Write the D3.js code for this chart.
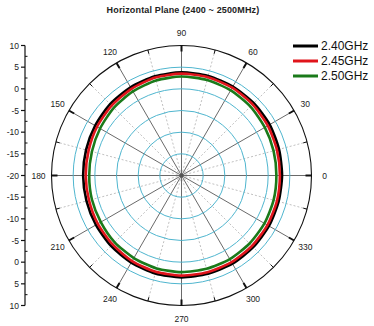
<!DOCTYPE html>
<html>
<head>
<meta charset="utf-8">
<script src="https://cdn.jsdelivr.net/npm/d3@7/dist/d3.min.js"></script>
<style>
  html, body { margin: 0; padding: 0; background: #fff; }
  svg { display: block; font-family: "Liberation Sans", Arial, sans-serif; }
</style>
</head>
<body>
<svg id="chart" width="374" height="326"></svg>
<script>
// Angles (degrees) at which the gain was sampled
const angles = [0, 15, 30, 45, 60, 75, 90, 105, 120, 135, 150, 165,
                180, 195, 210, 225, 240, 255, 270, 285, 300, 315, 330, 345];

// Gain (dB) per frequency
const gain240 = [3.2, 3.3, 3.5, 3.6, 3.7, 3.8, 3.8, 3.7, 3.5, 3.3, 3.0, 2.8,
                 2.7, 2.7, 2.8, 3.0, 3.2, 3.4, 3.5, 3.5, 3.5, 3.4, 3.3, 3.2];
const gain245 = [2.7, 2.8, 3.0, 3.2, 3.4, 3.5, 3.5, 3.4, 3.1, 2.8, 2.5, 2.2,
                 2.1, 2.1, 2.3, 2.5, 2.8, 3.0, 3.1, 3.1, 3.1, 3.0, 2.9, 2.8];
const gain250 = [1.9, 2.0, 2.2, 2.5, 2.7, 2.8, 2.85, 2.7, 2.4, 2.1, 1.7, 1.4,
                 1.3, 1.4, 1.5, 1.8, 2.0, 2.2, 2.3, 2.3, 2.3, 2.2, 2.1, 2.0];

const seriesNames = ["2.40GHz", "2.45GHz", "2.50GHz"];
const seriesColors = ["#000000", "#e0141b", "#1a7a1a"];

// Radial grid levels and angular labels
const ringLevels = [-15, -10, -5, 0, 5];
const axisTicks = [10, 5, 0, -5, -10, -15, -20];
const angleLabels = [0, 30, 60, 90, 120, 150, 180, 210, 240, 270, 300, 330];

const svg = d3.select("#chart");
const cx = 181.5, cy = 175.5, R = 130;

const r = d3.scaleLinear().domain([-20, 10]).range([0, R]);
const toRad = d => d * Math.PI / 180;
// polar -> screen (0° to the right, counter-clockwise)
const px = (deg, rad) => cx + rad * Math.cos(toRad(deg));
const py = (deg, rad) => cy - rad * Math.sin(toRad(deg));

// Title
svg.append("text")
  .attr("x", 183).attr("y", 13)
  .attr("text-anchor", "middle")
  .attr("font-size", 9).attr("font-weight", "bold")
  .attr("letter-spacing", 0.15)
  .attr("fill", "#222")
  .text("Horizontal Plane (2400 ~ 2500MHz)");

const g = svg.append("g");

// Dotted minor spokes
g.selectAll("line.minor")
  .data(d3.range(15, 360, 30))
  .join("line")
  .attr("x1", cx).attr("y1", cy)
  .attr("x2", d => px(d, R)).attr("y2", d => py(d, R))
  .attr("stroke", "#b0b0b0").attr("stroke-width", 0.8)
  .attr("stroke-dasharray", "2,2");

// Solid major spokes
g.selectAll("line.major")
  .data(angleLabels)
  .join("line")
  .attr("x1", cx).attr("y1", cy)
  .attr("x2", d => px(d, R)).attr("y2", d => py(d, R))
  .attr("stroke", "#6a6a6a").attr("stroke-width", 1);

// Rings
g.selectAll("circle.ring")
  .data(ringLevels)
  .join("circle")
  .attr("cx", cx).attr("cy", cy)
  .attr("r", d => r(d))
  .attr("fill", "none")
  .attr("stroke", "#4fb6cf").attr("stroke-width", 1);

// Outer boundary
g.append("circle")
  .attr("cx", cx).attr("cy", cy).attr("r", R)
  .attr("fill", "none").attr("stroke", "#111").attr("stroke-width", 1.1);

// Boundary ticks (inward)
g.selectAll("line.tick")
  .data(d3.range(0, 360, 15))
  .join("line")
  .attr("x1", d => px(d, R)).attr("y1", d => py(d, R))
  .attr("x2", d => px(d, R - (d % 30 === 0 ? 6 : 4)))
  .attr("y2", d => py(d, R - (d % 30 === 0 ? 6 : 4)))
  .attr("stroke", "#111")
  .attr("stroke-width", d => d % 30 === 0 ? 2 : 1);

// Centre dot
g.append("circle").attr("cx", cx).attr("cy", cy).attr("r", 2).attr("fill", "#555");

// Angle labels
g.selectAll("text.ang")
  .data(angleLabels)
  .join("text")
  .attr("x", d => px(d, R + 13))
  .attr("y", d => py(d, R + 13) + 3)
  .attr("text-anchor", "middle")
  .attr("font-size", 8.5).attr("fill", "#222")
  .text(d => d);

// Pattern curves
const line = d3.lineRadial()
  .angle(d => toRad(90 - d[0]))
  .radius(d => r(d[1]))
  .curve(d3.curveCardinalClosed.tension(0.3));

const series = [gain240, gain245, gain250];
const curves = svg.append("g").attr("transform", `translate(${cx},${cy})`);
series.forEach((vals, i) => {
  curves.append("path")
    .datum(angles.map((a, k) => [a, vals[k]]))
    .attr("d", line)
    .attr("fill", "none")
    .attr("stroke", seriesColors[i])
    .attr("stroke-width", 2.6);
});

// Left radial axis (mirrored top and bottom)
const ax = svg.append("g");
const axX = 25;
ax.append("line")
  .attr("x1", axX).attr("x2", axX)
  .attr("y1", cy - R).attr("y2", cy + R)
  .attr("stroke", "#111").attr("stroke-width", 1.2);

const tickYs = [];
axisTicks.forEach(v => {
  tickYs.push({ v, y: cy - r(v) });
  if (v !== -20) tickYs.push({ v, y: cy + r(v) });
});
ax.selectAll("line.at")
  .data(tickYs)
  .join("line")
  .attr("x1", axX - 4).attr("x2", axX)
  .attr("y1", d => d.y).attr("y2", d => d.y)
  .attr("stroke", "#111").attr("stroke-width", 1.2);
ax.selectAll("text.al")
  .data(tickYs)
  .join("text")
  .attr("x", axX - 6).attr("y", d => d.y + 3)
  .attr("text-anchor", "end")
  .attr("font-size", 8.5).attr("fill", "#222")
  .text(d => d.v);

// Minor axis ticks at half steps
const minorYs = [];
d3.range(-17.5, 10, 5).forEach(v => {
  minorYs.push(cy - r(v));
  minorYs.push(cy + r(v));
});
ax.selectAll("line.am")
  .data(minorYs)
  .join("line")
  .attr("x1", axX).attr("x2", axX + 2.5)
  .attr("y1", d => d).attr("y2", d => d)
  .attr("stroke", "#111").attr("stroke-width", 1);

// Legend
const lg = svg.append("g");
seriesNames.forEach((name, i) => {
  const y = 46 + i * 15;
  lg.append("line")
    .attr("x1", 293).attr("x2", 318)
    .attr("y1", y).attr("y2", y)
    .attr("stroke", seriesColors[i]).attr("stroke-width", 3);
  lg.append("text")
    .attr("x", 321).attr("y", y + 4)
    .attr("font-size", 12).attr("fill", "#111")
    .text(name);
});
</script>
</body>
</html>
